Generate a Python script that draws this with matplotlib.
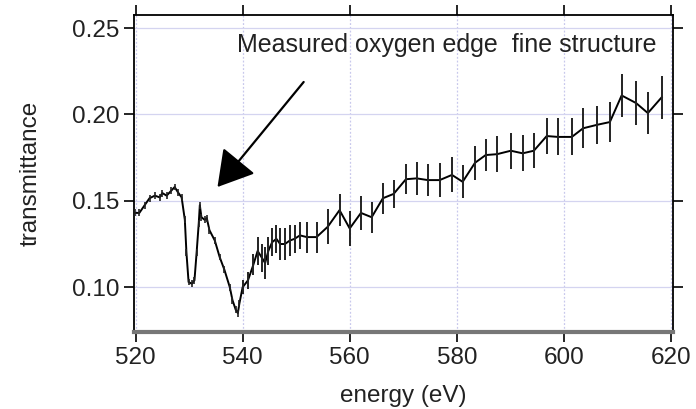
import matplotlib.pyplot as plt
import numpy as np

plt.rcParams['font.family'] = ['Liberation Sans', 'DejaVu Sans']

# dense scan across the edge
energy_fine = [519.8, 520.7, 521.7, 522.6, 523.6, 524.5, 525.0, 525.8, 526.7, 527.3,
               527.9, 528.6, 529.2, 529.5, 529.9, 530.5, 531.0, 531.4, 531.8, 532.0,
               532.3, 532.9, 533.3, 533.8, 534.8, 535.7, 536.6, 537.6, 538.1, 538.7,
               539.1, 539.4]
trans_fine = [0.143, 0.143, 0.1475, 0.1515, 0.153, 0.152, 0.1545, 0.153, 0.156, 0.158,
              0.155, 0.152, 0.139, 0.120, 0.103, 0.102, 0.104, 0.120, 0.137, 0.1475,
              0.1405, 0.139, 0.140, 0.133, 0.127, 0.1175, 0.110, 0.100, 0.0925, 0.087,
              0.085, 0.0907]
sigma_fine = [0.002] * len(trans_fine)

# coarser points above the edge, with uncertainties
energy_err = [540.0, 541.0, 542.0, 542.8, 543.6, 544.2, 544.8, 545.5, 546.3, 547.0,
              547.9, 548.8, 549.7, 550.7, 552.0, 553.8, 555.9, 558.1, 560.0, 562.1,
              564.1, 566.2, 568.2, 570.5, 572.5, 574.6, 576.8, 579.1, 581.1, 583.4,
              585.4, 587.5, 590.1, 592.3, 594.4, 596.8, 598.9, 601.5, 603.6, 606.2,
              608.6, 610.8, 613.5, 615.7, 618.3]
trans_err = [0.100, 0.104, 0.113, 0.121, 0.117, 0.114, 0.121, 0.126, 0.128, 0.125,
             0.125, 0.127, 0.128, 0.130, 0.129, 0.129, 0.135, 0.1446, 0.134, 0.143,
             0.1405, 0.1515, 0.154, 0.1625, 0.163, 0.162, 0.162, 0.165, 0.161, 0.172,
             0.1765, 0.177, 0.179, 0.1775, 0.179, 0.1875, 0.187, 0.187, 0.192, 0.194,
             0.1956, 0.211, 0.2066, 0.2008, 0.210]
sigma = [0.004, 0.005, 0.006, 0.008, 0.008, 0.009, 0.008, 0.008, 0.008, 0.009,
         0.009, 0.009, 0.008, 0.008, 0.009, 0.009, 0.010, 0.0093, 0.010, 0.010,
         0.009, 0.009, 0.008, 0.0087, 0.0095, 0.0093, 0.010, 0.0101, 0.0096, 0.0098,
         0.0093, 0.0104, 0.0104, 0.0104, 0.0101, 0.0104, 0.0107, 0.0107, 0.0116, 0.011,
         0.0116, 0.0122, 0.0127, 0.0122, 0.0125]

xticks = [520, 540, 560, 580, 600, 620]
yticks = [0.10, 0.15, 0.20, 0.25]

fig = plt.figure(figsize=(6.96, 4.09), dpi=100)
ax = fig.add_axes([0.1925, 0.188, 0.967 - 0.1925, 0.963 - 0.188])

energy_all = energy_fine + energy_err
trans_all = trans_fine + trans_err
ax.plot(energy_all, trans_all, color='black', lw=1.4, zorder=3)
ax.errorbar(energy_fine, trans_fine, yerr=sigma_fine, fmt='none',
            ecolor='#222222', elinewidth=1.2, capsize=0, zorder=3)
ax.errorbar(energy_err, trans_err, yerr=sigma, fmt='none',
            ecolor='#222222', elinewidth=1.4, capsize=0, zorder=3)

ax.set_xlim(519.7, 620.4)
ax.set_ylim(0.074, 0.2575)
ax.set_xticks(xticks)
ax.set_yticks(yticks)
ax.set_yticklabels([f'{v:.2f}' for v in yticks])

ax.xaxis.grid(True, color='#c8c8ec', lw=0.9, ls=(0, (1.5, 1.5)))
ax.yaxis.grid(True, color='#d4d4f0', lw=0.9)
ax.set_axisbelow(True)

ax.tick_params(direction='out', length=7, width=1.2, labelsize=17.5,
               labelcolor='#222222', top=True, right=True,
               labeltop=False, labelright=False)
for side in ['left', 'top', 'right']:
    ax.spines[side].set_linewidth(1.3)
ax.spines['bottom'].set_linewidth(3)
ax.spines['bottom'].set_color('#777777')

ax.set_xlabel('energy (eV)', fontsize=17.5, color='#222222', labelpad=12)
ax.set_ylabel('transmittance', fontsize=17.5, color='#222222', labelpad=22)

ax.text(538.9, 0.240, 'Measured oxygen edge  fine structure', fontsize=18,
        color='#222222', ha='left', va='center')
ax.annotate('', xy=(535.3, 0.158), xytext=(551.4, 0.2188),
            arrowprops=dict(arrowstyle='-|>,head_length=1.1,head_width=0.65',
                            mutation_scale=20, lw=1.6, color='black',
                            shrinkA=0, shrinkB=0))

fig.savefig('out.png', dpi=100)
